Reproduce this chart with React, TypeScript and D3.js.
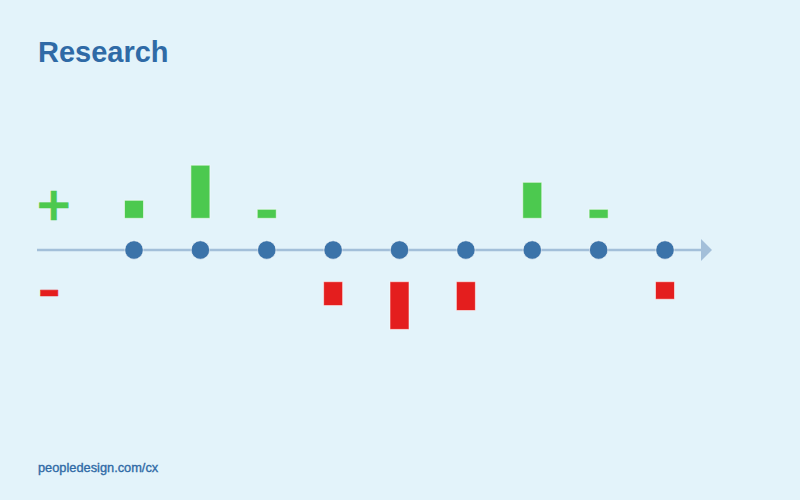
import React from "react";
import * as d3 from "d3";

const steps = ["1", "2", "3", "4", "5", "6", "7", "8", "9"];
const positives = [2, 5.9, 1, 0, 0, 0, 4, 1, 0];
const negatives = [0, 0, 0, 2.65, 5.3, 3.2, 0, 0, 1.95];
const title = "Research";
const footer = "peopledesign.com/cx";

const W = 800;
const H = 500;
const BG = "#e3f3fa";
const BLUE = "#2f6aa6";
const DOT = "#3b73a9";
const LINE = "#a3bfd9";
const GREEN = "#4cc94f";
const RED = "#e41e1e";

export default function App() {
  const x = d3.scalePoint<string>().domain(steps).range([134, 665]);
  const axisY = 250;
  const gap = 31.7;
  const yUp = d3.scaleLinear().domain([0, 6]).range([axisY - gap, axisY - gap - 54]);
  const yDown = d3.scaleLinear().domain([0, 6]).range([axisY + gap, axisY + gap + 54]);
  const bw = 19;
  const halo = "rgba(255,255,255,0.55)";

  return (
    <svg width={W} height={H} style={{ position: "absolute", left: 0, top: 0, display: "block" }}>
      <rect x={0} y={0} width={W} height={H} fill={BG} />
      <text x={38} y={61.5} fill={BLUE} fontFamily="'Liberation Sans', Arial, sans-serif" fontWeight={700} fontSize={29}>
        {title}
      </text>
      <text x={38} y={471.5} fill={BLUE} fontFamily="'Liberation Sans', Arial, sans-serif" fontSize={12.8} fontWeight={400} stroke={BLUE} strokeWidth={0.35}>
        {footer}
      </text>

      {/* legend signs */}
      <text x={53.8} y={219.5} textAnchor="middle" fill={GREEN} stroke={GREEN} strokeWidth={0.5} fontFamily="'DejaVu Sans', sans-serif" fontSize={46} fontWeight={700}>
        +
      </text>
      <text x={49.2} y={306} textAnchor="middle" fill={RED} stroke={RED} strokeWidth={0.6} fontFamily="'DejaVu Sans', sans-serif" fontSize={46} fontWeight={700} textLength={22} lengthAdjust="spacingAndGlyphs">
        –
      </text>

      {/* axis */}
      <line x1={37} x2={702} y1={axisY} y2={axisY} stroke={LINE} strokeWidth={2.5} />
      <path d={`M701,${axisY - 11}L712,${axisY}L701,${axisY + 11}Z`} fill={LINE} />

      {/* positive bars */}
      {steps.map((s, i) =>
        positives[i] > 0 ? (
          <rect key={"p" + s} x={(x(s) as number) - bw / 2} y={yUp(positives[i])} width={bw} height={yUp(0) - yUp(positives[i])} fill={GREEN} stroke={halo} strokeWidth={1} />
        ) : null
      )}
      {/* negative bars */}
      {steps.map((s, i) =>
        negatives[i] > 0 ? (
          <rect key={"n" + s} x={(x(s) as number) - bw / 2} y={yDown(0)} width={bw} height={yDown(negatives[i]) - yDown(0)} fill={RED} stroke={halo} strokeWidth={1} />
        ) : null
      )}
      {/* dots */}
      {steps.map((s) => (
        <circle key={"c" + s} cx={x(s) as number} cy={axisY} r={9.2} fill={DOT} stroke={halo} strokeWidth={1} />
      ))}
    </svg>
  );
}
